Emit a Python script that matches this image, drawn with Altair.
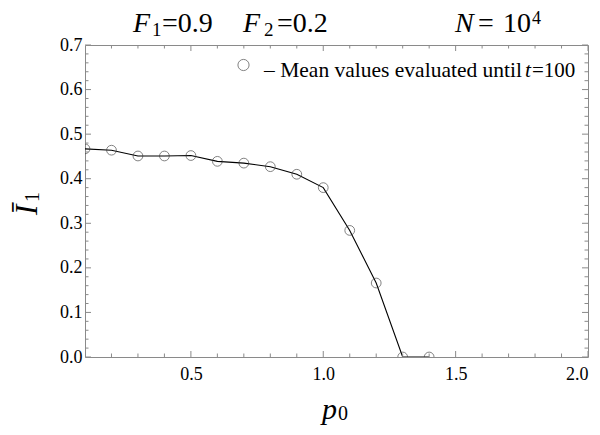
import altair as alt
import pandas as pd

# ---- data ----
p0 = [0.1, 0.2, 0.3, 0.4, 0.5, 0.6, 0.7, 0.8, 0.9, 1.0, 1.1, 1.2, 1.3, 1.4]
I1 = [0.467, 0.464, 0.451, 0.451, 0.452, 0.439, 0.435, 0.427, 0.410, 0.380,
      0.284, 0.166, 0.0, 0.0]

x_major = [0.5, 1.0, 1.5, 2.0]
x_minor = [0.2, 0.3, 0.4, 0.6, 0.7, 0.8, 0.9, 1.1, 1.2, 1.3, 1.4,
           1.6, 1.7, 1.8, 1.9]
y_major = [0.0, 0.1, 0.2, 0.3, 0.4, 0.5, 0.6, 0.7]
y_minor = [0.02, 0.04, 0.06, 0.08, 0.12, 0.14, 0.16, 0.18, 0.22, 0.24, 0.26,
           0.28, 0.32, 0.34, 0.36, 0.38, 0.42, 0.44, 0.46, 0.48, 0.52, 0.54,
           0.56, 0.58, 0.62, 0.64, 0.66, 0.68]

SERIF = "Liberation Serif"
W, H = 503, 312
FRAME = "#8a8a8a"

df = pd.DataFrame({"p0": p0, "I1": I1})
xs = alt.Scale(domain=[0.1, 2.0], nice=False, zero=False)
ys = alt.Scale(domain=[0.0, 0.7], nice=False, zero=False)
xaxis = alt.Axis(values=x_major, format=".1f", ticks=False, domain=False,
                 grid=False, labelFont=SERIF, labelFontSize=18,
                 labelColor="black", labelPadding=8, title=None)
yaxis = alt.Axis(values=y_major, format=".1f", ticks=False, domain=False,
                 grid=False, labelFont=SERIF, labelFontSize=18,
                 labelColor="black", labelPadding=3, title=None)

line = alt.Chart(df).mark_line(color="black", strokeWidth=1.1, clip=True).encode(
    x=alt.X("p0:Q", scale=xs, axis=xaxis, title=None),
    y=alt.Y("I1:Q", scale=ys, axis=yaxis, title=None),
)
pts = alt.Chart(df).mark_point(shape="circle", filled=False, size=95,
                               color="#3a3a3a", strokeWidth=0.9, clip=True).encode(
    x=alt.X("p0:Q", scale=xs, axis=xaxis, title=None),
    y=alt.Y("I1:Q", scale=ys, axis=yaxis, title=None),
)


def xticks(vals, length):
    d = pd.DataFrame({"v": vals})
    bottom = alt.Chart(d).mark_rule(color=FRAME, strokeWidth=1).encode(
        x=alt.X("v:Q", scale=xs, axis=xaxis, title=None),
        y=alt.value(H), y2=alt.value(H - length))
    top = alt.Chart(d).mark_rule(color=FRAME, strokeWidth=1).encode(
        x=alt.X("v:Q", scale=xs, axis=xaxis, title=None),
        y=alt.value(0), y2=alt.value(length))
    return [bottom, top]


def yticks(vals, length):
    d = pd.DataFrame({"v": vals})
    left = alt.Chart(d).mark_rule(color=FRAME, strokeWidth=1).encode(
        y=alt.Y("v:Q", scale=ys, axis=yaxis, title=None),
        x=alt.value(0), x2=alt.value(length))
    right = alt.Chart(d).mark_rule(color=FRAME, strokeWidth=1).encode(
        y=alt.Y("v:Q", scale=ys, axis=yaxis, title=None),
        x=alt.value(W), x2=alt.value(W - length))
    return [left, right]


def txt(s, x, y, size, italic=False, align="left", angle=0):
    return alt.Chart(pd.DataFrame({"t": [s]})).mark_text(
        font=SERIF, fontSize=size, fontStyle="italic" if italic else "normal",
        align=align, baseline="alphabetic", angle=angle, color="black"
    ).encode(text="t:N", x=alt.value(x), y=alt.value(y))


labels = [
    # title
    txt("F", 48, -13, 28, italic=True),
    txt("1", 67, -9, 19),
    txt("=0.9", 77, -13, 28),
    txt("F", 158, -13, 28, italic=True),
    txt("2", 179, -9, 19),
    txt("=0.2", 192, -13, 28),
    txt("N", 370, -13, 28, italic=True),
    txt("=", 393, -13, 28),
    txt("10", 418, -13, 28),
    txt("4", 447, -21, 18),
    # legend
    txt("\u2013 Mean values evaluated until", 437, 32, 21.5, align="right"),
    txt("t", 440, 32, 21.5, italic=True),
    txt("=100", 447, 32, 21),
    # axis titles
    txt("p", 237, 374, 30, italic=True),
    txt("0", 253, 375, 20),
    txt("\u012a", -48, 170, 31, italic=True, angle=270),
    txt("1", -46, 157, 20, angle=270),
]

legend_circle = alt.Chart(pd.DataFrame({"t": ["o"]})).mark_point(
    shape="circle", filled=False, size=125, color="#3a3a3a", strokeWidth=0.9
).encode(x=alt.value(158.5), y=alt.value(20))

layers = ([line, pts] + xticks(x_major, 6) + xticks(x_minor, 3.5)
          + yticks(y_major, 6) + yticks(y_minor, 3.5) + [legend_circle] + labels)

chart = alt.layer(*layers).properties(
    width=W, height=H,
    autosize=alt.AutoSizeParams(type="none"),
    padding={"left": 77, "top": 37, "right": 4, "bottom": 80},
).configure_view(stroke=FRAME, strokeWidth=1)

chart.save("out.html", embed_options={"renderer": "svg", "actions": False})
